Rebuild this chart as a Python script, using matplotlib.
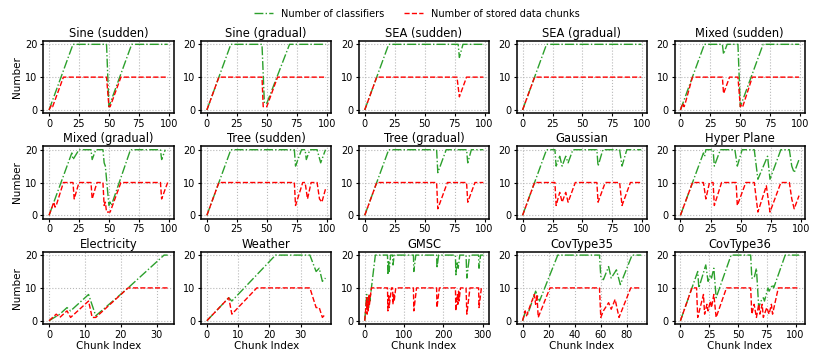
import numpy as np
import matplotlib.pyplot as plt

# panel titles, row by row
titles = ['Sine (sudden)', 'Sine (gradual)', 'SEA (sudden)', 'SEA (gradual)', 'Mixed (sudden)',
          'Mixed (gradual)', 'Tree (sudden)', 'Tree (gradual)', 'Gaussian', 'Hyper Plane',
          'Electricity', 'Weather', 'GMSC', 'CovType35', 'CovType36']

# x tick labels per panel
ticks_100 = [0, 25, 50, 75, 100]
ticks_elec = [0, 10, 20, 30]
ticks_weather = [0, 10, 20, 30]
ticks_gmsc = [0, 100, 200, 300]
ticks_cov35 = [0, 20, 40, 60, 80]
xticks = [ticks_100] * 10 + [ticks_elec, ticks_weather, ticks_gmsc, ticks_cov35, ticks_100]

# (chunk index, value) break points
sine_sudden_clf = [(0, 0), (20, 20), (48, 20), (50, 1), (51, 2), (69, 20), (99, 20)]
sine_sudden_chunks = [(0, 0), (2, 1.5), (3, 1), (12, 10), (48, 10), (50, 1), (51, 1), (60, 10), (99, 10)]

sine_gradual_clf = [(0, 0), (20, 20), (46, 20), (48, 2), (50, 2), (69, 20), (99, 20)]
sine_gradual_chunks = [(0, 0), (10, 10), (46, 10), (47, 1), (50, 1), (59, 10), (99, 10)]

sea_sudden_clf = [(0, 0), (20, 20), (78, 20), (79, 16), (82, 20), (99, 20)]
sea_sudden_chunks = [(0, 0), (10, 10), (77, 10), (79, 4), (85, 10), (99, 10)]

sea_gradual_clf = [(0, 0), (20, 20), (99, 20)]
sea_gradual_chunks = [(0, 0), (10, 10), (99, 10)]

mixed_sudden_clf = [(0, 0), (20, 20), (35, 20), (36, 17), (39, 20), (48, 20), (50, 1), (51, 2), (69, 20), (99, 20)]
mixed_sudden_chunks = [(0, 0), (2, 2), (3, 1), (4, 2), (10, 10), (35, 10), (36, 5), (41, 10), (48, 10),
                       (50, 1), (51, 1.5), (52, 1), (60, 10), (99, 10)]

mixed_gradual_clf = [(0, 0), (19, 19), (20, 17), (25, 20), (35, 20), (36, 17), (39, 20), (45, 20), (46, 16),
                     (47, 15), (50, 3), (51, 4), (52, 3), (68, 20), (93, 20), (94, 17), (97, 20)]
mixed_gradual_chunks = [(0, 0), (4, 4), (5, 2.5), (6, 3), (12, 10), (20, 10), (21, 5), (25, 10), (35, 10),
                        (36, 5), (40, 10), (45, 10), (46, 3), (47, 4), (48, 1), (51, 1), (60, 10), (93, 10),
                        (94, 5), (99, 10)]

tree_sudden_clf = [(0, 0), (20, 20), (73, 20), (74, 15), (79, 20), (82, 20), (83, 17), (86, 20), (92, 20),
                   (95, 16), (99, 20)]
tree_sudden_chunks = [(0, 0), (10, 10), (73, 10), (74, 3), (80, 10), (82, 10), (84, 5), (87, 10), (92, 10),
                      (94, 5), (96, 4), (99, 8)]

tree_gradual_clf = [(0, 0), (20, 20), (60, 20), (61, 13), (68, 20), (85, 20), (86, 16), (89, 20), (99, 20)]
tree_gradual_chunks = [(0, 0), (10, 10), (60, 10), (61, 2), (69, 10), (85, 10), (86, 4), (92, 10), (99, 10)]

gaussian_clf = [(0, 0), (20, 20), (27, 20), (28, 15), (31, 18), (33, 15), (36, 18), (38, 16), (42, 20),
                (62, 20), (63, 15), (67, 20), (81, 20), (83, 15), (87, 20), (99, 20)]
gaussian_chunks = [(0, 0), (10, 10), (27, 10), (28, 3), (31, 7), (33, 4), (36, 7), (38, 4), (44, 10),
                   (62, 10), (63, 4), (69, 10), (81, 10), (83, 3), (90, 10), (99, 10)]

hyper_clf = [(0, 0), (19, 19), (20, 18), (21, 20), (27, 20), (28, 15), (33, 20), (45, 20), (47, 15), (51, 20),
             (61, 20), (64, 11), (72, 18), (74, 11), (83, 20), (90, 20), (92, 15), (94, 13), (98, 17)]
hyper_chunks = [(0, 0), (10, 10), (19, 10), (21, 5), (24, 10), (27, 10), (28, 3), (34, 10), (46, 10), (47, 3),
                (54, 10), (61, 10), (64, 1), (71, 9), (74, 1), (83, 10), (90, 10), (92, 5), (94, 2), (98, 6)]

elec_clf = [(0, 0), (3, 2), (5, 4), (6, 3), (11, 8), (13, 1.5), (22, 10), (32, 20), (33, 20)]
elec_chunks = [(0, 0), (2, 2), (3, 1), (5, 3), (6, 1), (11, 6), (12, 1), (13, 1), (22, 10), (33, 10)]

weather_clf = [(0, 0), (7, 7), (8, 6), (22, 20), (33, 20), (35, 15), (36, 16), (37, 12), (38, 13)]
weather_chunks = [(0, 0), (7, 7), (8, 2), (16, 10), (33, 10), (35, 4), (36, 4), (37, 1), (38, 2)]

gmsc_clf = [(0, 0), (5, 8), (6, 4), (8, 7), (10, 4), (12, 8), (13, 6), (17, 10), (27, 20),
            (58, 20), (59, 14), (61, 18), (62, 15), (66, 20), (71, 20), (72, 17), (75, 20),
            (124, 20), (125, 15), (130, 20), (183, 20), (184, 16), (188, 20),
            (231, 20), (232, 14), (235, 18), (238, 16), (239, 17), (242, 20),
            (258, 20), (260, 13), (267, 20), (290, 20), (291, 16), (295, 20), (302, 20)]
gmsc_chunks = [(0, 0), (5, 7), (6, 2), (8, 6), (9, 3), (11, 8), (12, 5), (17, 10),
               (58, 10), (59, 3), (61, 8), (62, 4), (68, 10), (71, 10), (72, 5), (74, 8), (75, 6), (79, 10),
               (124, 10), (125, 3), (132, 10), (183, 10), (184, 4), (190, 10),
               (231, 10), (232, 3), (236, 8), (237, 5), (239, 9), (240, 6), (244, 10),
               (258, 10), (260, 2), (268, 10), (290, 10), (291, 4), (297, 10), (302, 10)]

cov35_clf = [(0, 0), (2, 2.5), (4, 2), (10, 9), (13, 6), (27, 20), (59, 20), (60, 13.5), (62, 12.5),
             (66, 16.5), (68, 13), (72, 15.5), (75, 11), (84, 20), (91, 20)]
cov35_chunks = [(0, 0), (2, 3), (3, 1.5), (9, 8), (10, 5), (11, 8), (12, 1), (21, 10), (59, 10), (60, 1),
                (62, 3), (66, 5.5), (68, 3.5), (71, 6.5), (74, 1), (83, 10), (91, 10)]

cov36_clf = [(0, 0), (15, 15), (16, 10), (22, 17), (24, 12), (26, 14), (27, 13), (29, 16), (31, 7), (44, 20),
             (61, 20), (62, 13), (64, 13), (66, 16), (68, 4), (70, 6), (72, 7), (73, 6), (76, 10), (77, 9),
             (80, 11), (81, 10), (83, 12), (91, 20), (103, 20)]
cov36_chunks = [(0, 0), (10, 10), (14, 10), (15, 1), (20, 8), (21, 2), (23, 5), (24, 3), (26, 6), (27, 4),
                (29, 8), (31, 1), (40, 10), (61, 10), (62, 2), (64, 5), (66, 1), (68, 5), (69, 2), (71, 5),
                (72, 1), (75, 4), (77, 2), (79, 5), (80, 2), (85, 10), (103, 10)]

clf_series = [sine_sudden_clf, sine_gradual_clf, sea_sudden_clf, sea_gradual_clf, mixed_sudden_clf,
              mixed_gradual_clf, tree_sudden_clf, tree_gradual_clf, gaussian_clf, hyper_clf,
              elec_clf, weather_clf, gmsc_clf, cov35_clf, cov36_clf]
chunk_series = [sine_sudden_chunks, sine_gradual_chunks, sea_sudden_chunks, sea_gradual_chunks, mixed_sudden_chunks,
                mixed_gradual_chunks, tree_sudden_chunks, tree_gradual_chunks, gaussian_chunks, hyper_chunks,
                elec_chunks, weather_chunks, gmsc_chunks, cov35_chunks, cov36_chunks]

fig, axes = plt.subplots(3, 5, figsize=(8.29, 3.6), dpi=100)
plt.subplots_adjust(left=0.052, right=0.971, top=0.886, bottom=0.1, wspace=0.21, hspace=0.46)

for i, ax in enumerate(axes.flat):
    cx, cy = zip(*clf_series[i])
    kx, ky = zip(*chunk_series[i])
    ax.plot(cx, cy, '-.', color='tab:green', lw=1, label='Number of classifiers')
    ax.plot(kx, ky, '--', color='red', lw=1, label='Number of stored data chunks')
    ax.set_title(titles[i], fontsize=8.3, pad=3)
    ax.set_xticks(xticks[i])
    ax.set_yticks([0, 10, 20])
    ax.tick_params(labelsize=7, length=2.5, width=0.8, pad=1.5)
    ax.grid(True, linestyle=':', color='#b8b8b8', lw=0.8)
    for s in ax.spines.values():
        s.set_linewidth(1.1)
    if i % 5 == 0:
        ax.set_ylabel('Number', fontsize=7.5, labelpad=2)
    if i >= 10:
        ax.set_xlabel('Chunk Index', fontsize=7.5, labelpad=1)

h, l = axes[0, 0].get_legend_handles_labels()
fig.legend(h, l, loc='upper center', bbox_to_anchor=(0.503, 1.0), ncol=2, frameon=False, fontsize=7)

plt.savefig('out.png', dpi=100)
